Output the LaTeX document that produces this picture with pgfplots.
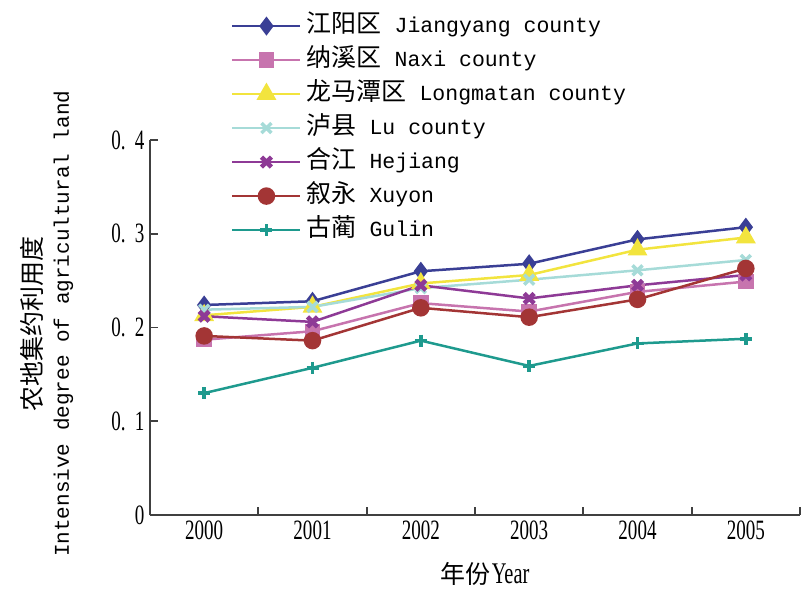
\documentclass[border=0pt]{standalone}
\usepackage{fontspec}
\setmainfont{Liberation Serif}
\newfontfamily\cjk{Noto Sans CJK SC}
\newfontfamily\mono{Liberation Mono}
\newfontfamily\cserif{Liberation Serif}[FakeStretch=0.68]
\usepackage{pgfplots}
\pgfplotsset{compat=1.18}
\definecolor{cJY}{HTML}{3A3F95}
\definecolor{cNX}{HTML}{C774AE}
\definecolor{cLM}{HTML}{F2E43E}
\definecolor{cLU}{HTML}{A6DBD8}
\definecolor{cHJ}{HTML}{8E3A96}
\definecolor{cXY}{HTML}{A33535}
\definecolor{cGL}{HTML}{1E9A8E}
\definecolor{axc}{HTML}{404040}
\pgfplotsset{
  legend image code/.code={\draw[mark repeat=2,mark phase=2,#1] plot coordinates {(0pt,0pt) (34pt,0pt) (68pt,0pt)};}
}
\begin{document}
\begin{tikzpicture}
\begin{axis}[
  scale only axis,
  width=650pt, height=375pt,
  xmin=-0.5, xmax=5.5,
  ymin=0, ymax=0.4,
  axis x line*=bottom, axis y line*=left,
  axis line style={axc, line width=1.8pt},
  every tick/.style={axc, line width=1.8pt},
  tick align=inside,
  xtick={0,1,2,3,4,5},
  xticklabels={2000,2001,2002,2003,2004,2005},
  major x tick style={draw=none},
  minor xtick={-0.5,0.5,1.5,2.5,3.5,4.5,5.5},
  minor tick length=8pt,
  major tick length=8pt,
  ytick={0,0.1,0.2,0.3,0.4},
  yticklabels={0,0.\,\,1,0.\,\,2,0.\,\,3,0.\,\,4},
  tick label style={font=\fontsize{28}{30}\selectfont\cserif},
  xticklabel style={yshift=-2pt},
  yticklabel style={xshift=-2pt},
  clip=false,
  xlabel={{\cjk\fontsize{25}{28}\selectfont 年份}\,{\cserif\fontsize{30}{32}\selectfont Year}},
  xlabel style={at={(axis description cs:0.515,-0.125)}, anchor=north, inner sep=0pt},
  ylabel={{\cjk\fontsize{25}{28}\selectfont 农地集约利用度}\\[9pt]{\mono\fontsize{21}{24}\selectfont Intensive degree of agricultural land}},
  ylabel style={at={(axis description cs:-0.118,0.51)}, anchor=south, align=center, inner sep=0pt},
  legend style={at={(axis description cs:0.12,1.355)}, anchor=north west, draw=none, fill=none,
    nodes={font=\mono\fontsize{21.5}{24}\selectfont, text height=18pt, text depth=6pt, inner ysep=5pt, inner xsep=5pt}},
  legend cell align=left,
  every axis plot/.append style={line width=2.5pt},
]
\addplot[cJY, mark=diamond*, mark size=7.5pt] coordinates {(0,0.224) (1,0.228) (2,0.260) (3,0.268) (4,0.294) (5,0.307)};
\addlegendentry{{\cjk\fontsize{25}{26}\selectfont 江阳区} Jiangyang county}
\addplot[cNX, mark=square*, mark size=6.5pt] coordinates {(0,0.187) (1,0.196) (2,0.226) (3,0.217) (4,0.238) (5,0.249)};
\addlegendentry{{\cjk\fontsize{25}{26}\selectfont 纳溪区} Naxi county}
\addplot[cLM, mark=triangle*, mark size=9pt] coordinates {(0,0.213) (1,0.222) (2,0.247) (3,0.256) (4,0.283) (5,0.296)};
\addlegendentry{{\cjk\fontsize{25}{26}\selectfont 龙马潭区} Longmatan county}
\addplot[cLU, mark=x, mark size=7pt, mark options={line width=3.5pt}] coordinates {(0,0.219) (1,0.222) (2,0.242) (3,0.251) (4,0.261) (5,0.272)};
\addlegendentry{{\cjk\fontsize{25}{26}\selectfont 泸县} Lu county}
\addplot[cHJ, mark=x, mark size=7pt, mark options={line width=4.5pt}] coordinates {(0,0.212) (1,0.206) (2,0.245) (3,0.231) (4,0.245) (5,0.256)};
\addlegendentry{{\cjk\fontsize{25}{26}\selectfont 合江} Hejiang}
\addplot[cXY, mark=*, mark size=7.5pt] coordinates {(0,0.191) (1,0.186) (2,0.221) (3,0.211) (4,0.230) (5,0.263)};
\addlegendentry{{\cjk\fontsize{25}{26}\selectfont 叙永} Xuyon}
\addplot[cGL, mark=+, mark size=6pt, mark options={line width=3.5pt}] coordinates {(0,0.130) (1,0.157) (2,0.186) (3,0.159) (4,0.183) (5,0.188)};
\addlegendentry{{\cjk\fontsize{25}{26}\selectfont 古蔺} Gulin}
\end{axis}
\pgfresetboundingbox
\path ([xshift=-150pt,yshift=-80pt]current axis.south west) rectangle ([xshift=2pt,yshift=140pt]current axis.north east);
\end{tikzpicture}
\end{document}
